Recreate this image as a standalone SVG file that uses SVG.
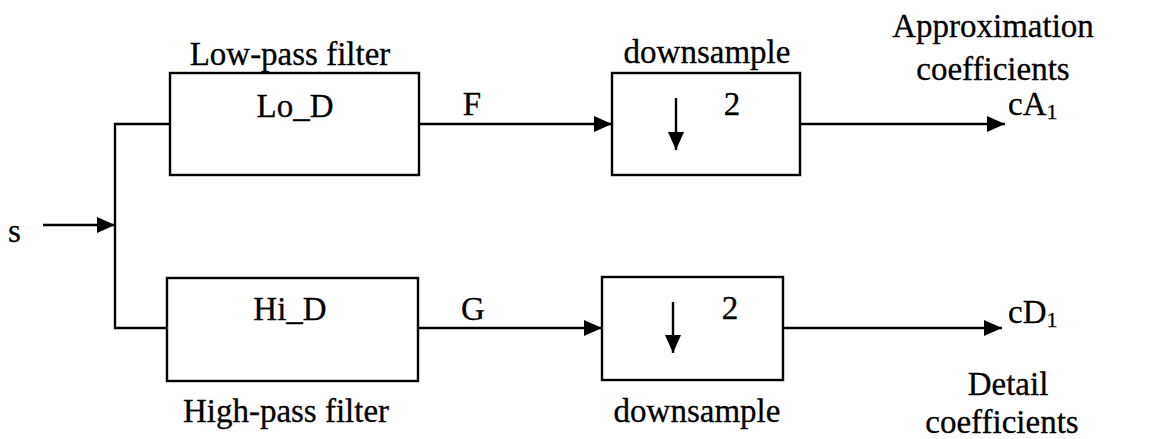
<svg xmlns="http://www.w3.org/2000/svg" width="1176" height="439" viewBox="0 0 1176 439">
  <style>
    text { font-family: "Liberation Serif", "Times New Roman", serif; font-size: 33px; fill: #000; stroke: #000; stroke-width: 0.3; }
    .c { text-anchor: middle; }
    .box { fill: #fff; stroke: #000; stroke-width: 2.4; }
    .wire { fill: none; stroke: #000; stroke-width: 2.4; }
    .sub { font-size: 22px; }
  </style>
  <defs>
    <marker id="arrow" viewBox="0 0 18 16" refX="18" refY="8" markerWidth="18" markerHeight="16" markerUnits="userSpaceOnUse" orient="auto">
      <path d="M0,0 L18,8 L0,16 Z" fill="#000"/>
    </marker>
  </defs>

  <rect width="1176" height="439" fill="#fff"/>

  <!-- connectors -->
  <g id="connectors">
    <line class="wire" x1="43" y1="225" x2="115" y2="225" marker-end="url(#arrow)"/>
    <polyline class="wire" points="170,124 115,124 115,328 167,328"/>
    <line class="wire" x1="419" y1="124" x2="612" y2="124" marker-end="url(#arrow)"/>
    <line class="wire" x1="418" y1="328" x2="602" y2="328" marker-end="url(#arrow)"/>
    <line class="wire" x1="800" y1="124" x2="1005" y2="124" marker-end="url(#arrow)"/>
    <line class="wire" x1="783" y1="328" x2="1002" y2="328" marker-end="url(#arrow)"/>
  </g>

  <!-- input -->
  <g id="input">
    <text x="8" y="242">s</text>
  </g>

  <!-- low-pass filter -->
  <g id="lowpass">
    <text class="c" x="290" y="65">Low-pass filter</text>
    <rect class="box" x="170" y="73" width="249" height="102"/>
    <text class="c" x="295" y="117">Lo_D</text>
  </g>

  <!-- high-pass filter -->
  <g id="highpass">
    <rect class="box" x="167" y="278" width="251" height="103"/>
    <text class="c" x="290" y="320">Hi_D</text>
    <text class="c" x="286" y="422">High-pass filter</text>
  </g>

  <!-- signal labels -->
  <g id="label-F"><text class="c" x="472" y="115">F</text></g>
  <g id="label-G"><text class="c" x="473" y="320">G</text></g>

  <!-- downsample, approximation branch -->
  <g id="downsample-a">
    <text class="c" x="707" y="63">downsample</text>
    <rect class="box" x="612" y="73" width="188" height="102"/>
    <line class="wire" x1="676" y1="98" x2="676" y2="150" marker-end="url(#arrow)"/>
    <text class="c" x="732" y="115">2</text>
  </g>

  <!-- downsample, detail branch -->
  <g id="downsample-d">
    <rect class="box" x="602" y="277" width="181" height="103"/>
    <line class="wire" x1="673" y1="302" x2="673" y2="353" marker-end="url(#arrow)"/>
    <text class="c" x="730" y="319">2</text>
    <text class="c" x="697" y="422">downsample</text>
  </g>

  <!-- outputs -->
  <g id="output-cA">
    <text class="c" x="993" y="37">Approximation</text>
    <text class="c" x="993" y="80">coefficients</text>
    <text x="1008" y="115">cA<tspan class="sub" dy="4">1</tspan></text>
  </g>
  <g id="output-cD">
    <text x="1008" y="323">cD<tspan class="sub" dy="4">1</tspan></text>
    <text class="c" x="1008" y="395">Detail</text>
    <text class="c" x="1002" y="433">coefficients</text>
  </g>
</svg>
